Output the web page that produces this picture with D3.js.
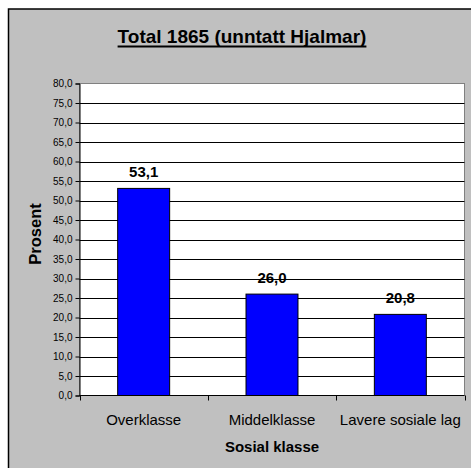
<!DOCTYPE html>
<html>
<head>
<meta charset="utf-8">
<script src="https://cdn.jsdelivr.net/npm/d3@7"></script>
<style>
    html, body { margin: 0; padding: 0; background: #ffffff; }
    svg { display: block; font-family: "Liberation Sans", Arial, sans-serif; }
</style>
</head>
<body>
<svg id="chart" width="471" height="468"></svg>
<script>
// Data
const categories = ['Overklasse', 'Middelklasse', 'Lavere sosiale lag'];
const values = [53.1, 26.0, 20.8];
const yTicks = [0, 5, 10, 15, 20, 25, 30, 35, 40, 45, 50, 55, 60, 65, 70, 75, 80];

const chartTitle = 'Total 1865 (unntatt Hjalmar)';
const xTitle = 'Sosial klasse';
const yTitle = 'Prosent';

const fmt = v => v.toFixed(1).replace('.', ',');

const plot = { left: 79.5, right: 464.5, top: 83.5, bottom: 395.5 };

const svg = d3.select('#chart');

// Chart area background + border (only left/top fall inside the picture)
svg.append('rect')
    .attr('x', 8.5).attr('y', 9)
    .attr('width', 480).attr('height', 480)
    .attr('fill', '#c0c0c0')
    .attr('stroke', '#000')
    .attr('stroke-width', 1.5);

// Scales
const x = d3.scaleBand()
    .domain(categories)
    .range([plot.left, plot.right])
    .paddingInner(0.595)
    .paddingOuter(0.2975);

const xOuter = d3.scaleBand()
    .domain(categories)
    .range([plot.left, plot.right]);

const y = d3.scaleLinear()
    .domain([0, 80])
    .range([plot.bottom, plot.top]);

// Plot area
svg.append('rect')
    .attr('x', plot.left).attr('y', plot.top)
    .attr('width', plot.right - plot.left)
    .attr('height', plot.bottom - plot.top)
    .attr('fill', '#ffffff')
    .attr('stroke', '#808080')
    .attr('stroke-width', 1);

// Gridlines
svg.append('g').attr('class', 'grid')
    .selectAll('line')
    .data(yTicks.filter(t => t > 0 && t < 80)).enter().append('line')
    .attr('x1', plot.left).attr('x2', plot.right)
    .attr('y1', d => Math.round(y(d)) + 0.5)
    .attr('y2', d => Math.round(y(d)) + 0.5)
    .attr('stroke', '#000')
    .attr('stroke-width', 1);

// Bars
svg.append('g').attr('class', 'bars')
    .selectAll('rect')
    .data(values).enter().append('rect')
    .attr('x', (d, i) => x(categories[i]))
    .attr('y', d => y(d))
    .attr('width', x.bandwidth())
    .attr('height', d => plot.bottom - y(d))
    .attr('fill', '#0000ff')
    .attr('stroke', '#000')
    .attr('stroke-width', 1);

// Value labels
svg.append('g').attr('class', 'values')
    .selectAll('text')
    .data(values).enter().append('text')
    .attr('x', (d, i) => x(categories[i]) + x.bandwidth() / 2)
    .attr('y', d => y(d) - 11)
    .attr('text-anchor', 'middle')
    .attr('font-size', '15px')
    .attr('font-weight', 'bold')
    .attr('fill', '#000')
    .text(d => fmt(d));

// Y axis
const yAxis = svg.append('g')
    .attr('transform', `translate(${plot.left},0)`)
    .call(d3.axisLeft(y).tickValues(yTicks).tickFormat(fmt).tickSize(4).tickPadding(3));
yAxis.select('.domain').attr('stroke', '#000');
yAxis.selectAll('.tick line').attr('stroke', '#000');
yAxis.selectAll('.tick text')
    .attr('font-size', '10px')
    .attr('font-family', '"Liberation Sans", Arial, sans-serif')
    .attr('fill', '#000');

// X axis: ticks at category boundaries
const xAxis = svg.append('g').attr('class', 'x-axis');
xAxis.append('line')
    .attr('x1', plot.left).attr('x2', plot.right)
    .attr('y1', plot.bottom).attr('y2', plot.bottom)
    .attr('stroke', '#000');
const bounds = categories.map(c => xOuter(c)).concat([plot.right]);
xAxis.selectAll('line.tick')
    .data(bounds).enter().append('line')
    .attr('class', 'tick')
    .attr('x1', d => Math.round(d) + 0.5).attr('x2', d => Math.round(d) + 0.5)
    .attr('y1', plot.bottom).attr('y2', plot.bottom + 5)
    .attr('stroke', '#000');
xAxis.selectAll('text')
    .data(categories).enter().append('text')
    .attr('x', d => xOuter(d) + xOuter.bandwidth() / 2)
    .attr('y', 424.5)
    .attr('text-anchor', 'middle')
    .attr('font-size', '15px')
    .attr('fill', '#000')
    .text(d => d);

// Axis titles
svg.append('text')
    .attr('x', (plot.left + plot.right) / 2)
    .attr('y', 451.5)
    .attr('text-anchor', 'middle')
    .attr('font-size', '15px')
    .attr('font-weight', 'bold')
    .text(xTitle);

svg.append('text')
    .attr('transform', 'translate(41,234) rotate(-90)')
    .attr('text-anchor', 'middle')
    .attr('font-size', '16.5px')
    .attr('font-weight', 'bold')
    .text(yTitle);

// Title with a thick underline drawn by hand
const title = svg.append('text')
    .attr('x', 242)
    .attr('y', 43)
    .attr('text-anchor', 'middle')
    .attr('font-size', '19px')
    .attr('font-weight', 'bold')
    .text(chartTitle);
const tb = title.node().getBBox();
svg.append('line')
    .attr('x1', tb.x).attr('x2', tb.x + tb.width)
    .attr('y1', 46.5).attr('y2', 46.5)
    .attr('stroke', '#000')
    .attr('stroke-width', 2);
</script>
</body>
</html>
